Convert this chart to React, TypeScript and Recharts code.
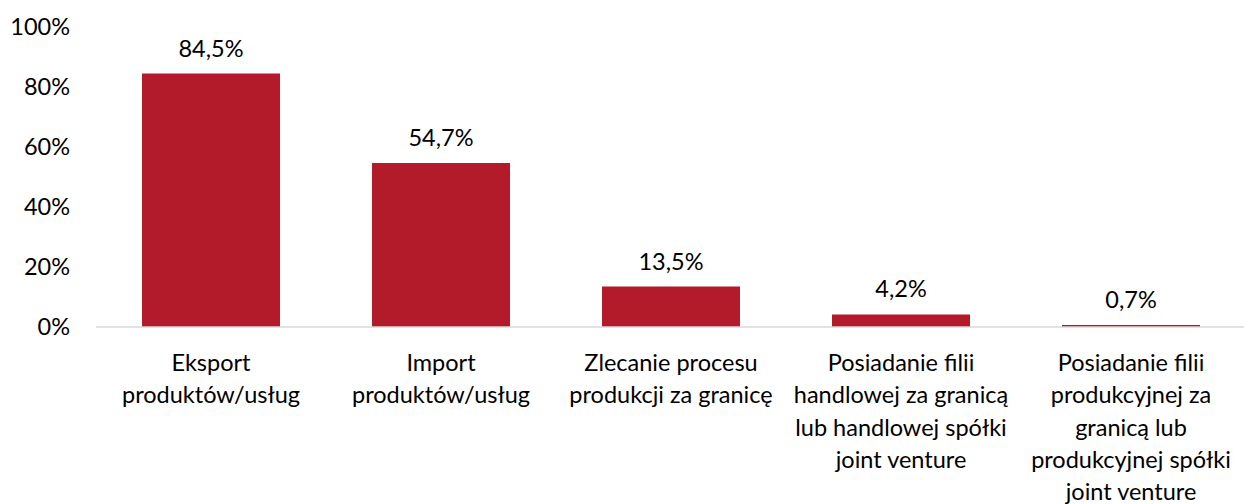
import React from "react";
import { BarChart, Bar, XAxis, YAxis, LabelList } from "recharts";

const categories: string[] = [
  "Eksport\nproduktów/usług",
  "Import\nproduktów/usług",
  "Zlecanie procesu\nprodukcji za granicę",
  "Posiadanie filii\nhandlowej za granicą\nlub handlowej spółki\njoint venture",
  "Posiadanie filii\nprodukcyjnej za\ngranicą lub\nprodukcyjnej spółki\njoint venture",
];
const values: number[] = [84.5, 54.7, 13.5, 4.2, 0.7];
const yTicks: number[] = [0, 20, 40, 60, 80, 100];

const data = categories.map((c, i) => ({ name: c, value: values[i] }));

const FONT = "Lato, 'Open Sans', sans-serif";
const FS = 23.5;
const TEXT = "#000000";

const XTick = (props: any) => {
  const { x, y, payload } = props;
  const lines = String(payload.value).split("\n");
  return (
    <text x={x} y={y} textAnchor="middle" fill={TEXT} fontFamily={FONT} fontSize={FS}>
      {lines.map((l, i) => (
        <tspan key={i} x={x} y={y + 36 + i * 32.3}>
          {l}
        </tspan>
      ))}
    </text>
  );
};

const YTick = (props: any) => {
  const { y, payload } = props;
  return (
    <text x={70} y={y} dy={8} textAnchor="end" fill={TEXT} fontFamily={FONT} fontSize={FS}>
      {`${payload.value}%`}
    </text>
  );
};

export default function App() {
  return (
    <div style={{ position: "absolute", left: 0, top: 0, width: 1244, height: 504, background: "#fff" }}>
      <BarChart
        width={1246}
        height={504}
        data={data}
        margin={{ top: 27, right: 0, bottom: 0, left: 0 }}
        barCategoryGap="20%"
      >
        <XAxis
          dataKey="name"
          interval={0}
          height={177}
          tickLine={false}
          axisLine={{ stroke: "#D9D9D9", strokeWidth: 1.5 }}
          tick={<XTick />}
        />
        <YAxis
          width={96}
          domain={[0, 100]}
          ticks={yTicks}
          axisLine={false}
          tickLine={false}
          tick={<YTick />}
        />
        <Bar dataKey="value" fill="#B31B2B" isAnimationActive={false}>
          <LabelList
            dataKey="value"
            position="top"
            offset={17}
            fill={TEXT}
            fontFamily={FONT}
            fontSize={FS}
            formatter={(v: any) => `${String(Number(v).toFixed(1)).replace(".", ",")}%`}
          />
        </Bar>
      </BarChart>
    </div>
  );
}
